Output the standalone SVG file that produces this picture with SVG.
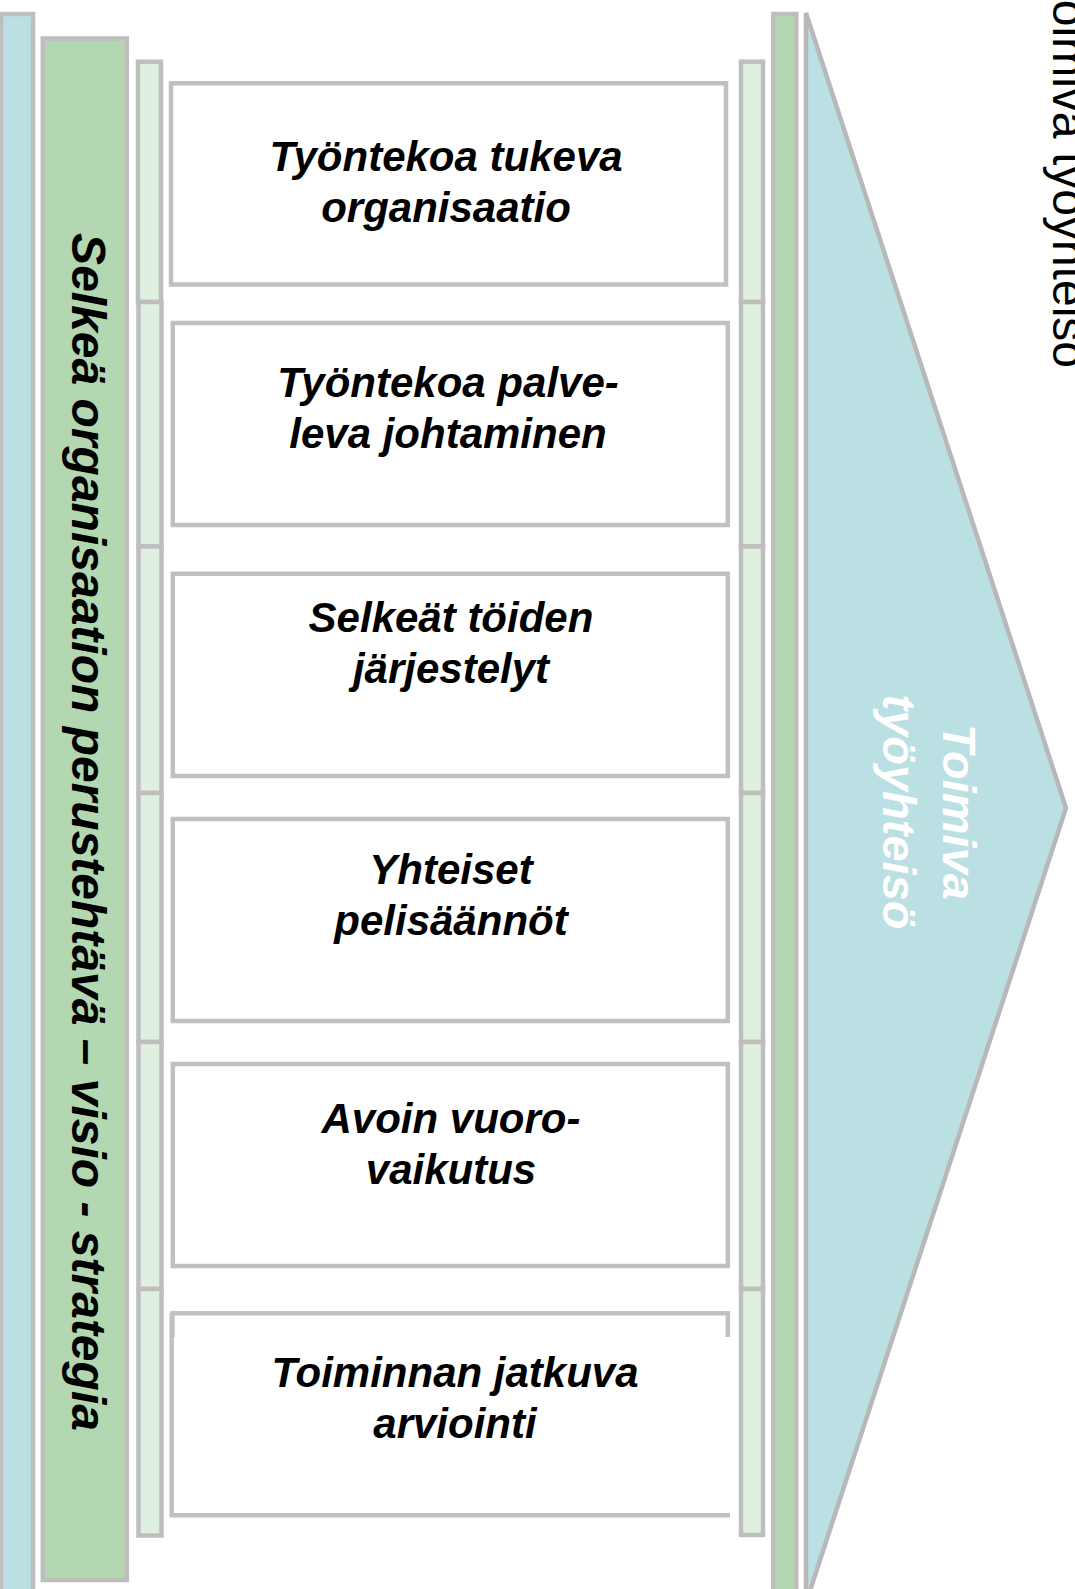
<svg xmlns="http://www.w3.org/2000/svg" width="1075" height="1589" viewBox="0 0 1075 1589">
<style>
.bar{stroke:#BEBEBE;stroke-width:4.5}
.blue{fill:#BBE0E3}
.green{fill:#B3D8B1}
.lg{fill:#E0F0E0}
.box{fill:#FFFFFF;stroke:#C0C0C0;stroke-width:4.5}
.edge{fill:none;stroke:#C0C0C0;stroke-width:4.5}
.lbl{font-family:"Liberation Sans",Arial,sans-serif;font-weight:bold;font-style:italic;font-size:42px;fill:#000;text-anchor:middle}
</style>
<rect width="1075" height="1589" fill="#FFFFFF"/>
<g id="left-blue-bar"><rect class="bar blue" x="1" y="14" width="32" height="1600"/></g>
<g id="left-green-bar">
<rect class="bar green" x="42.8" y="38.5" width="84" height="1541.5"/>
<text transform="translate(72,832) rotate(90)" x="0" y="0" font-family="Liberation Sans, Arial, sans-serif" font-weight="bold" font-style="italic" font-size="48" fill="#000" text-anchor="middle">Selkeä organisaation perustehtävä – visio - strategia</text>
</g>
<g id="left-light-bar">
<rect class="bar lg" x="138" y="61.7" width="23" height="240.3"/>
<rect class="bar lg" x="138.5" y="302" width="23" height="244.5"/>
<rect class="bar lg" x="138.5" y="546.5" width="23" height="246.5"/>
<rect class="bar lg" x="138.5" y="793" width="23" height="249"/>
<rect class="bar lg" x="138.5" y="1042" width="23" height="247"/>
<rect class="bar lg" x="138.5" y="1289" width="23" height="246.5"/>
</g>
<g id="right-light-bar">
<rect class="bar lg" x="741" y="61.7" width="22" height="240.3"/>
<rect class="bar lg" x="741" y="302" width="22" height="244.5"/>
<rect class="bar lg" x="741" y="546.5" width="22" height="246.5"/>
<rect class="bar lg" x="741" y="793" width="22" height="249"/>
<rect class="bar lg" x="741" y="1042" width="22" height="247"/>
<rect class="bar lg" x="741" y="1289" width="22" height="246"/>
</g>
<g id="right-green-bar"><rect class="bar green" x="773.3" y="14" width="23" height="1600"/></g>
<g id="result-arrow">
<polygon points="806,13 1066,808 806,1603" fill="#BBE0E3" stroke="#B8B8B8" stroke-width="4.5" stroke-linejoin="miter"/>
<text transform="translate(943,812) rotate(90)" font-family="Liberation Sans, Arial, sans-serif" font-weight="bold" font-style="italic" font-size="47" fill="#FFFFFF" text-anchor="middle"><tspan x="0" y="0">Toimiva</tspan><tspan x="0" y="60">työyhteisö</tspan></text>
</g>
<g id="box1">
<rect class="box" x="171" y="83.3" width="555" height="201.2"/>
<text class="lbl"><tspan x="446" y="171">Työntekoa tukeva</tspan><tspan x="446" y="222">organisaatio</tspan></text>
</g>
<g id="box2">
<rect class="box" x="172.8" y="323" width="555" height="202"/>
<text class="lbl"><tspan x="448" y="397">Työntekoa palve-</tspan><tspan x="448" y="448">leva johtaminen</tspan></text>
</g>
<g id="box3">
<rect class="box" x="172.8" y="573.8" width="555" height="202.2"/>
<text class="lbl"><tspan x="451" y="632">Selkeät töiden</tspan><tspan x="451" y="683">järjestelyt</tspan></text>
</g>
<g id="box4">
<rect class="box" x="172.8" y="819" width="555" height="202"/>
<text class="lbl"><tspan x="451" y="884">Yhteiset</tspan><tspan x="451" y="935">pelisäännöt</tspan></text>
</g>
<g id="box5">
<rect class="box" x="172.8" y="1064" width="555" height="202"/>
<text class="lbl"><tspan x="451" y="1133">Avoin vuoro-</tspan><tspan x="451" y="1184">vaikutus</tspan></text>
</g>
<g id="box6">
<rect x="172" y="1313" width="556" height="202" fill="#FFFFFF"/>
<path class="edge" d="M172.5,1337 V1313.3 H727.8 V1337"/>
<path class="edge" d="M171.7,1313.3 V1515.3 H730"/>
<text class="lbl"><tspan x="455" y="1387">Toiminnan jatkuva</tspan><tspan x="455" y="1438">arviointi</tspan></text>
</g>
<g id="title">
<text transform="translate(1053,0) rotate(90)" x="368" y="0" font-family="Liberation Sans, Arial, sans-serif" font-size="48" fill="#000" text-anchor="end">Toimiva työyhteisö</text>
</g>
<g id="connectors"></g>
</svg>
